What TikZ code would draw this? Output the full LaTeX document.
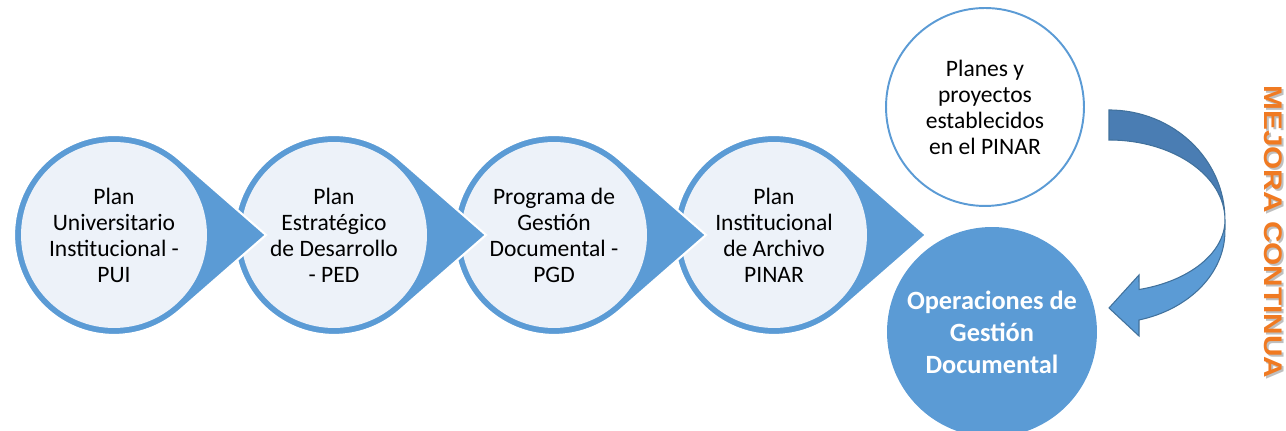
\documentclass[tikz,border=0pt]{standalone}
\usepackage{fontspec}
\setmainfont{Carlito}
\newfontfamily\wordartfont{Liberation Sans}
\usepackage{graphicx}
\usepackage{tikz}
\usetikzlibrary{calc}

\definecolor{stepblue}{HTML}{5B9BD5}
\definecolor{steplight}{HTML}{EDF2F9}
\definecolor{arrowdark}{HTML}{4A7DB3}
\definecolor{arrowline}{HTML}{41719C}
\definecolor{mejoraorange}{HTML}{F07A22}

\begin{document}
\begin{tikzpicture}[x=0.02cm, y=0.02cm,
        stepnode/.style={circle, fill=steplight, minimum size=3.72cm, inner sep=0pt,
            align=center, font=\fontsize{13.4}{14.8}\selectfont},
        planescircle/.style={circle, fill=white, draw=stepblue, line width=1.1pt,
            minimum size=3.96cm, inner sep=0pt, align=center, font=\fontsize{13.4}{14.8}\selectfont},
        opcircle/.style={circle, fill=stepblue, text=white, minimum size=4.2cm, inner sep=0pt,
            align=center, font=\bfseries\fontsize{15}{18.2}\selectfont},
        mejoratext/.style={rotate=-90, inner sep=0pt,
            font=\wordartfont\bfseries\fontsize{14.5}{16}\selectfont}]
            \useasboundingbox (0,0) rectangle (1286,431);
            % steps, drawn right to left so that each pointer lies on the next circle
            \foreach \name/\cx/\txt in {pinar/774/{Plan\\Institucional\\de Archivo\\PINAR},
                    pgd/554/{Programa de\\Gestión\\Documental -\\PGD},
                    ped/334/{Plan\\Estratégico\\de Desarrollo\\- PED},
                    pui/114/{Plan\\Universitario\\Institucional -\\PUI}} {
                \filldraw[fill=stepblue, draw=white, line width=1.2pt]
                    (\cx+152,196) -- ($(\cx,196)+(48.9:2cm)$)
                    arc[start angle=48.9, end angle=311.1, radius=2cm] -- cycle;
                \node[stepnode] (\name) at (\cx,196) {\txt};
            }
            \node[planescircle] (planes) at (985,324) {Planes y\\proyectos\\establecidos\\en el PINAR};
            \node[opcircle] (operaciones) at (992,99) {Operaciones de\\Gestión\\Documental};
            % curved arrow back to the operations
            \filldraw[fill=stepblue, draw=arrowline, line width=0.6pt]
                (1225,211) arc[start angle=0, end angle=-75, x radius=2.32cm, y radius=1.44cm]
                -- (1139,156) -- (1109,123) -- (1139,95) -- (1139,111)
                arc[start angle=-75, end angle=0, x radius=2.32cm, y radius=1.84cm] -- cycle;
            \filldraw[fill=arrowdark, draw=arrowline, line width=0.6pt]
                (1109,321) arc[start angle=90, end angle=0, x radius=2.32cm, y radius=2.2cm]
                arc[start angle=0, end angle=90, x radius=2.32cm, y radius=1.6cm] -- cycle;
            \node[mejoratext, text=black!25] (mejorashadow) at (1275,197) {\scalebox{1.17}[1]{MEJORA CONTINUA}};
            \node[mejoratext, text=mejoraorange] (mejora) at (1273,199) {\scalebox{1.17}[1]{MEJORA CONTINUA}};
        \end{tikzpicture}
\end{document}
